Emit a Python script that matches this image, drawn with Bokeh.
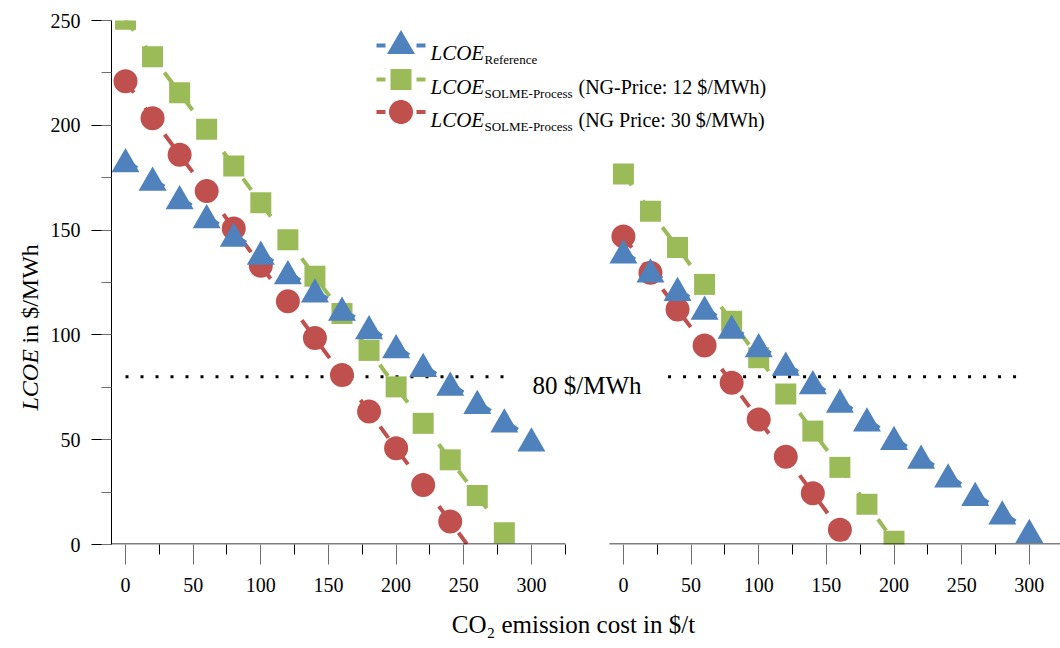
import math
from bokeh.plotting import figure
from bokeh.layouts import row
from bokeh.models import (Range1d, FixedTicker, SingleIntervalTicker, ColumnDataSource, Label,
                          BoxAnnotation, PolyAnnotation, CustomJSTickFormatter)
from bokeh.transform import dodge
from bokeh.embed import file_html
from bokeh.resources import INLINE

# ---------------- data ----------------
co2_cost = [0, 20, 40, 60, 80, 100, 120, 140, 160, 180, 200, 220, 240, 260, 280, 300]

# left panel
left_reference = [183.4, 174.5, 165.7, 156.7, 147.9, 139.2, 130.0, 121.3, 112.5, 103.7,
                  94.6, 85.7, 76.7, 68.0, 59.2, 50.2]
left_solme_ng12 = [250.6, 232.7, 215.5, 198.1, 180.6, 163.0, 145.4, 128.0, 110.2, 92.6,
                   75.2, 57.8, 40.4, 23.4, 5.6]
left_solme_ng30 = [221.0, 203.4, 186.0, 168.6, 150.8, 133.0, 116.0, 98.5, 80.9, 63.4,
                   45.9, 28.4, 11.0, -6.5]

# right panel
right_reference = [139.8, 130.8, 121.9, 113.0, 104.0, 95.1, 86.3, 77.5, 68.6, 59.7,
                   50.9, 41.9, 33.0, 24.2, 15.3, 6.5]
right_solme_ng12 = [176.8, 159.0, 141.7, 124.1, 106.5, 89.1, 71.8, 54.1, 36.8, 19.2, 1.5]
right_solme_ng30 = [147.0, 129.6, 112.1, 94.9, 77.2, 59.6, 41.9, 24.5, 7.0, -10.5]

threshold = 80
left_threshold_x = [0, 282]
right_threshold_x = [33, 295]

x_tick_values = [0, 50, 100, 150, 200, 250, 300]
x_minor_values = [25, 75, 125, 175, 225, 275, 325]
x_title = "CO\u2082 emission cost in $/t"

# ---------------- layout / style ----------------
YT_W = 44                    # strip holding the y title
W, H = 1060 - YT_W, 648
B_LEFT, B_TOP = 111 - YT_W, 20
B_BOTTOM = H - 544
FRAME_W = W - B_LEFT
FRAME_H = H - B_TOP - B_BOTTOM
PX_PER_X = 1.353
X_START = -10.35
X_END = X_START + FRAME_W / PX_PER_X
LEFT_AXIS_END = 325.2
PANEL_OFFSET = 368          # where the right panel's 0 sits on the shared axis
Y_END = 250
PX_Y = FRAME_H / Y_END

BLUE, GREEN, RED = "#4F81BD", "#9BBB59", "#C0504D"
SERIF = "Liberation Serif"
TRI, SQ, CIR = 28, 21, 24
LW, DASH = 4, "14 19"
tri_shift = -(TRI * math.sqrt(3) / 2 / 6) / PX_Y   # centre the triangle's box on the value

p = figure(width=W, height=H, output_backend="svg", toolbar_location=None, title=None,
           x_range=Range1d(X_START, X_END), y_range=Range1d(0, Y_END),
           min_border_left=B_LEFT, min_border_right=0, min_border_top=B_TOP,
           min_border_bottom=B_BOTTOM)
p.extra_x_ranges = {"right": Range1d(X_START - PANEL_OFFSET, X_END - PANEL_OFFSET)}
p.grid.visible = False
p.outline_line_color = None
p.background_fill_color = "white"
p.border_fill_color = "white"

# x axis: one axis carrying the ticks of both panels
xa = p.xaxis[0]
xa.ticker = FixedTicker(
    ticks=x_tick_values + [t + PANEL_OFFSET for t in x_tick_values],
    minor_ticks=x_minor_values + [t + PANEL_OFFSET for t in x_minor_values if t + PANEL_OFFSET < X_END])
xa.formatter = CustomJSTickFormatter(args=dict(off=PANEL_OFFSET),
                                     code="const v = tick > off - 30 ? tick - off : tick; return v.toFixed(0);")
xa.axis_line_color = None
xa.major_tick_out, xa.major_tick_in = 20, 0
xa.minor_tick_out, xa.minor_tick_in = 10, 0
xa.major_tick_line_color = "#6e6e6e"
xa.minor_tick_line_color = "black"
xa.major_label_text_font = SERIF
xa.major_label_text_font_size = "20px"
xa.major_label_text_color = "black"
xa.major_label_standoff = 13
# title centred a little left of the frame's centre, as in the reference
xa.axis_label = x_title + "\u00a0" * 4
xa.axis_label_text_font = SERIF
xa.axis_label_text_font_size = "25px"
xa.axis_label_text_font_style = "normal"
xa.axis_label_text_color = "black"
xa.axis_label_standoff = 16

ya = p.yaxis[0]
ya.ticker = SingleIntervalTicker(interval=50, num_minor_ticks=2)
ya.axis_line_color = "black"
ya.major_tick_out, ya.major_tick_in = 20, 0
ya.minor_tick_out, ya.minor_tick_in = 10, 0
ya.major_tick_line_color = "black"
ya.minor_tick_line_color = "#6e6e6e"
ya.major_label_text_font = SERIF
ya.major_label_text_font_size = "20px"
ya.major_label_text_color = "black"
ya.major_label_standoff = 11

# ---------------- series ----------------
panels = [
    ("default", left_reference, left_solme_ng12, left_solme_ng30, left_threshold_x, LEFT_AXIS_END),
    ("right", right_reference, right_solme_ng12, right_solme_ng30, right_threshold_x, X_END - PANEL_OFFSET),
]
for rng, ref, ng12, ng30, thr_x, axis_end in panels:
    kw = {} if rng == "default" else {"x_range_name": "right"}
    s_ref = ColumnDataSource(dict(x=co2_cost[:len(ref)], y=ref))
    s_12 = ColumnDataSource(dict(x=co2_cost[:len(ng12)], y=ng12))
    s_30 = ColumnDataSource(dict(x=co2_cost[:len(ng30)], y=ng30))
    p.segment(x0=[thr_x[0]], x1=[thr_x[1]], y0=[threshold], y1=[threshold], line_color="black",
              line_width=3, line_dash="3 12", **kw)
    p.line("x", "y", source=s_12, line_color=GREEN, line_width=LW, line_dash=DASH, **kw)
    p.line("x", "y", source=s_30, line_color=RED, line_width=LW, line_dash=DASH, **kw)
    p.line("x", "y", source=s_ref, line_color=BLUE, line_width=LW, line_dash=DASH, **kw)
    p.scatter("x", "y", source=s_12, marker="square", size=SQ, fill_color=GREEN, line_color=None, **kw)
    p.scatter("x", "y", source=s_30, marker="circle", size=CIR, fill_color=RED, line_color=None, **kw)
    p.scatter("x", dodge("y", tri_shift), source=s_ref, marker="triangle", size=TRI,
              fill_color=BLUE, line_color=None, **kw)
    # this panel's x axis line (1 px, on the frame's bottom edge)
    p.quad(left=[X_START], right=[axis_end], bottom=[0], top=[1 / PX_Y], fill_color="black",
           line_color=None, **kw)


def box(fig, l, r, t, b, color):
    fig.add_layout(BoxAnnotation(left=l, right=r, top=t, bottom=b, left_units="canvas",
                                 right_units="canvas", top_units="canvas", bottom_units="canvas",
                                 fill_color=color, fill_alpha=1.0, line_color=None))


def label(fig, text, x, y, size, style="normal", angle=0.0):
    fig.add_layout(Label(x=x, y=y, x_units="canvas", y_units="canvas", text=text,
                         text_font=SERIF, text_font_size=size, text_font_style=style,
                         text_color="black", text_baseline="alphabetic", text_align="left",
                         angle=angle))


# ---------------- legend (drawn by hand, main-figure canvas px) ----------------
OX = YT_W  # main figure starts this far from the page's left
legend_rows = [45, 79, 111.5]
legend_colors = [BLUE, GREEN, RED]
MX = 400.5 - OX
for i, (ly, col) in enumerate(zip(legend_rows, legend_colors)):
    for a, b in [(376, 385), (416, 425)]:
        box(p, a - OX, b - OX, ly - 2, ly + 2, col)
    if i == 0:
        h = TRI * math.sqrt(3) / 2
        xs = [MX - TRI / 2, MX + TRI / 2, MX]
        ys = [ly - 3.5 + h / 2, ly - 3.5 + h / 2, ly - 3.5 - h / 2]
        p.add_layout(PolyAnnotation(xs=xs, ys=ys, xs_units="canvas", ys_units="canvas",
                                    fill_color=col, fill_alpha=1.0, line_color=None))
    elif i == 1:
        box(p, MX - SQ / 2, MX + SQ / 2, ly - SQ / 2, ly + SQ / 2, col)
    else:
        n = 48
        xs = [MX + CIR / 2 * math.cos(2 * math.pi * k / n) for k in range(n)]
        ys = [ly + CIR / 2 * math.sin(2 * math.pi * k / n) for k in range(n)]
        p.add_layout(PolyAnnotation(xs=xs, ys=ys, xs_units="canvas", ys_units="canvas",
                                    fill_color=col, fill_alpha=1.0, line_color=None))

legend_subs = ["Reference", "SOLME-Process", "SOLME-Process"]
legend_tails = ["", "(NG-Price: 12 $/MWh)", "(NG Price: 30 $/MWh)"]
for ly, sub, tail in zip(legend_rows, legend_subs, legend_tails):
    base = ly + 7.5
    label(p, "LCOE", 430 - OX, base, "21px", "italic")
    label(p, sub, 484 - OX, base + 6.5, "13px")
    if tail:
        label(p, tail, 578 - OX, base, "20px")

# threshold annotation
label(p, "80 $/MWh", 532 - OX, 384.5, "25px")

# ---------------- y title strip ----------------
yt = figure(width=YT_W, height=H, output_backend="svg", toolbar_location=None, title=None,
            x_range=Range1d(0, 1), y_range=Range1d(0, 1), x_axis_type=None, y_axis_type=None,
            min_border=0, min_border_left=0, min_border_right=0, min_border_top=0,
            min_border_bottom=0)
yt.grid.visible = False
yt.outline_line_color = None
label(yt, "LCOE", 29.5, 410, "24px", "italic", angle=math.pi / 2)
label(yt, "in $/MWh", 29.5, 343, "24px", angle=math.pi / 2)

layout = row(yt, p, spacing=0)
open("out.html", "w").write(file_html(layout, INLINE))
